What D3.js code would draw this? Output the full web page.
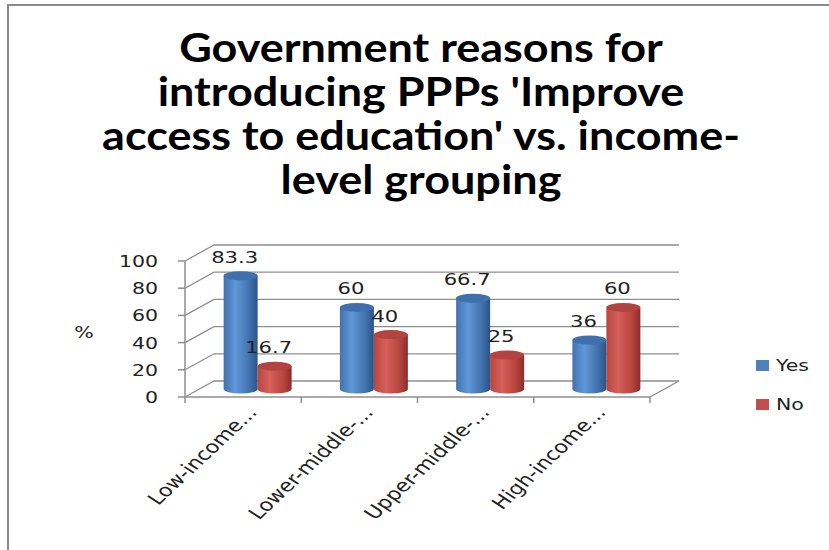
<!DOCTYPE html>
<html>
<head>
<meta charset="utf-8">
<script src="https://cdn.jsdelivr.net/npm/d3@7"></script>
<style>
  body { margin: 0; background: #fff; }
  svg { display: block; }
</style>
</head>
<body>
<script>
const width = 829;
const height = 550;

// data
const categories = ['Low-income...', 'Lower-middle-...', 'Upper-middle-...', 'High-income...'];
const series = ['Yes', 'No'];
const yesValues = [83.3, 60, 66.7, 36];
const noValues = [16.7, 40, 25, 60];
const yTicks = [0, 20, 40, 60, 80, 100];
const titleLines = [
  'Government reasons for',
  "introducing PPPs 'Improve",
  "access to education' vs. income-",
  'level grouping'
];

const shades = { Yes: ['#4272ae', '#6197d8', '#2b5387'], No: ['#b8463f', '#d6605b', '#8a2e2b'] };
const topColors = { Yes: '#3f70ad', No: '#b3433f' };
const legendColors = { Yes: '#4f81bd', No: '#c0504d' };
const stretch = 1.28; // the picture is stretched sideways
const depth = { dx: 29, dy: -16 };
const font = 'DejaVu Sans, Verdana, sans-serif';

const svg = d3.select('body').append('svg')
  .attr('width', width)
  .attr('height', height);

// gradients for the cylinders
const defs = svg.append('defs');
series.forEach(s => {
  const g = defs.append('linearGradient').attr('id', 'grad' + s)
    .attr('x1', '0%').attr('x2', '100%').attr('y1', '0%').attr('y2', '0%');
  g.append('stop').attr('offset', '0%').attr('stop-color', shades[s][0]);
  g.append('stop').attr('offset', '35%').attr('stop-color', shades[s][1]);
  g.append('stop').attr('offset', '75%').attr('stop-color', shades[s][0]);
  g.append('stop').attr('offset', '100%').attr('stop-color', shades[s][2]);
});

// frame
svg.append('path')
  .attr('d', `M8,${height} L8,5 L${width},5`)
  .attr('fill', 'none').attr('stroke', '#8a8a8a').attr('stroke-width', 2);

// title
const title = svg.append('g').attr('class', 'title');
const titleY = [62, 106, 150, 194];
titleLines.forEach((t, i) => {
  title.append('text')
    .attr('x', 0).attr('y', titleY[i])
    .attr('text-anchor', 'middle')
    .attr('font-family', 'Lato, "Open Sans", sans-serif')
    .attr('font-weight', 'bold')
    .attr('font-size', 40)
    .attr('fill', '#000')
    .text(t);
});
// fit the widest line to the width it has in the reference
const widest = d3.max(title.selectAll('text').nodes(), n => n.getComputedTextLength());
title.attr('transform', `translate(421,0) scale(${638 / widest},1)`);

const x = d3.scaleBand().domain(categories).range([185, 650]);
const xs = d3.scaleBand().domain(series).range([0, x.bandwidth()]).paddingOuter(0.71);
const y = d3.scaleLinear().domain([0, 100]).range([397, 261]);

const grid = '#8f8f8f';
const chart = svg.append('g');

// back wall and side wall gridlines
yTicks.forEach(t => {
  chart.append('path')
    .attr('d', `M${x.range()[0]},${y(t)} L${x.range()[0] + depth.dx},${y(t) + depth.dy} L${x.range()[1] + depth.dx},${y(t) + depth.dy}`)
    .attr('fill', 'none').attr('stroke', grid).attr('stroke-width', 1.3);
});

// floor right edge
chart.append('line')
  .attr('x1', x.range()[1]).attr('y1', y(0))
  .attr('x2', x.range()[1] + depth.dx).attr('y2', y(0) + depth.dy)
  .attr('stroke', grid).attr('stroke-width', 1.3);

// y axis
chart.append('line')
  .attr('x1', 185).attr('x2', 185).attr('y1', y(0)).attr('y2', y(100))
  .attr('stroke', grid).attr('stroke-width', 1.5);
yTicks.forEach(t => {
  chart.append('line')
    .attr('x1', 178).attr('x2', 185).attr('y1', y(t)).attr('y2', y(t))
    .attr('stroke', grid).attr('stroke-width', 1.5);
  chart.append('text')
    .attr('transform', `translate(158,${y(t) + 6}) scale(${stretch},1)`)
    .attr('text-anchor', 'end')
    .attr('font-family', font)
    .attr('font-size', 16)
    .attr('fill', '#222')
    .text(t);
});

svg.append('text')
  .attr('transform', `translate(84,338) scale(${stretch},1)`)
  .attr('text-anchor', 'middle')
  .attr('font-family', font)
  .attr('font-size', 16)
  .attr('fill', '#222')
  .text('%');

// x axis
chart.append('line')
  .attr('x1', x.range()[0]).attr('x2', x.range()[1]).attr('y1', y(0)).attr('y2', y(0))
  .attr('stroke', grid).attr('stroke-width', 1.5);
const edges = categories.map(c => x(c)).concat([x.range()[1]]);
edges.forEach(e => {
  chart.append('line')
    .attr('x1', e).attr('x2', e).attr('y1', y(0)).attr('y2', y(0) + 6)
    .attr('stroke', grid).attr('stroke-width', 1.5);
});
categories.forEach(c => {
  const cx = x(c) + x.bandwidth() / 2 + 15;
  chart.append('text')
    .attr('transform', `translate(${cx},413) scale(${stretch},1) rotate(-50)`)
    .attr('text-anchor', 'end')
    .attr('font-family', font)
    .attr('font-size', 17.5)
    .attr('fill', '#222')
    .text(c);
});

// cylinders
const rows = [];
categories.forEach((c, i) => {
  rows.push({ cat: c, s: 'Yes', v: yesValues[i] });
  rows.push({ cat: c, s: 'No', v: noValues[i] });
});
const ry = 4.5;
const cyl = chart.selectAll('g.cyl').data(rows).enter().append('g').attr('class', 'cyl');
const cxOf = d => x(d.cat) + xs(d.s) + xs.bandwidth() / 2 + depth.dx / 2;
const rx = xs.bandwidth() / 2;
const yTop = d => y(d.v) + depth.dy / 2;
const yBot = y(0) + depth.dy / 2;

cyl.append('path')
  .attr('d', d => {
    const l = cxOf(d) - rx, r = cxOf(d) + rx;
    return `M${l},${yTop(d)} L${l},${yBot} A${rx},${ry} 0 0 0 ${r},${yBot} L${r},${yTop(d)} Z`;
  })
  .attr('fill', d => `url(#grad${d.s})`);
cyl.append('ellipse')
  .attr('cx', cxOf).attr('cy', yTop)
  .attr('rx', rx).attr('ry', ry)
  .attr('fill', d => topColors[d.s]);

// data labels
cyl.append('text')
  .attr('transform', d => `translate(${cxOf(d) - 6},${yTop(d) - 13}) scale(${stretch},1)`)
  .attr('text-anchor', 'middle')
  .attr('font-family', font)
  .attr('font-size', 16.5)
  .attr('fill', '#222')
  .text(d => d.v);

// legend
const legend = svg.append('g');
series.forEach((s, i) => {
  legend.append('rect')
    .attr('x', 756).attr('y', 360 + i * 39)
    .attr('width', 13).attr('height', 11)
    .attr('fill', legendColors[s]);
  legend.append('text')
    .attr('transform', `translate(776,${371 + i * 39}) scale(${stretch},1)`)
    .attr('font-family', font)
    .attr('font-size', 16)
    .attr('fill', '#222')
    .text(s);
});
</script>
</body>
</html>
